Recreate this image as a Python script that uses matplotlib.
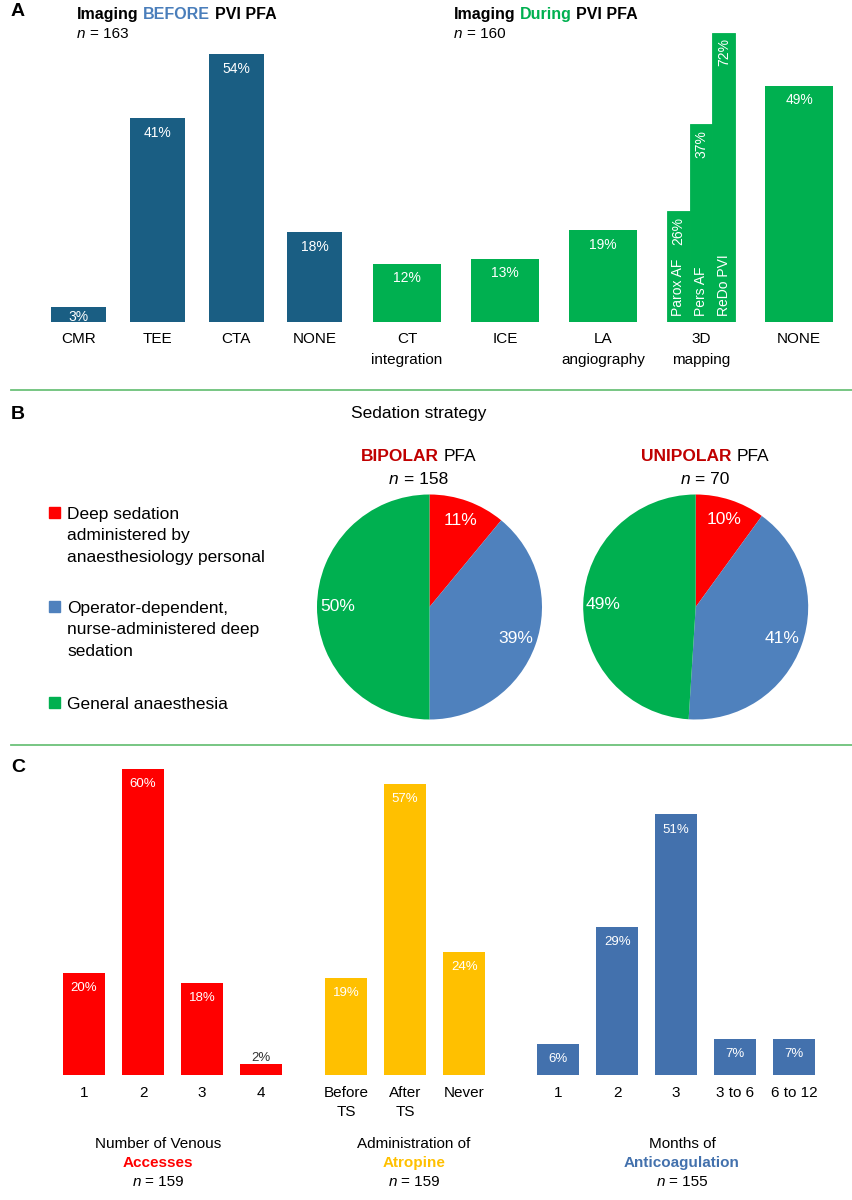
import matplotlib
matplotlib.use("Agg")
import matplotlib.pyplot as plt
from matplotlib.patches import Rectangle
from matplotlib.lines import Line2D

plt.rcParams['font.family'] = ['Liberation Sans', 'DejaVu Sans']

# ---- panel A: imaging ----
before_cats = ["CMR", "TEE", "CTA", "NONE"]
before_vals = [3, 41, 54, 18]
before_n = 163

during_cats = ["CT\nintegration", "ICE", "LA\nangiography", "3D\nmapping", "NONE"]
during_vals = [12, 13, 19, None, 49]  # 3D mapping is split into sub-bars below
during_n = 160

mapping_groups = ["Parox AF", "Pers AF", "ReDo PVI"]
mapping_vals = [26, 37, 72]       # printed percentages
mapping_heights = [23, 41, 60]    # drawn heights (not to scale there)

# ---- panel B: sedation ----
sed_labels = [["Deep sedation", "administered by", "anaesthesiology personal"],
              ["Operator-dependent,", "nurse-administered deep", "sedation"],
              ["General anaesthesia"]]
bipolar_vals = [11, 39, 50]
unipolar_vals = [10, 41, 49]
bipolar_n = 158
unipolar_n = 70

# ---- panel C ----
access_cats = ["1", "2", "3", "4"]
access_vals = [20, 60, 18, 2]
atropine_cats = ["Before\nTS", "After\nTS", "Never"]
atropine_vals = [19, 57, 24]
anticoag_cats = ["1", "2", "3", "3 to 6", "6 to 12"]
anticoag_vals = [6, 29, 51, 7, 7]

BEFORE_BLUE = '#1a5e83'
GREEN = '#00b050'
PIE_COLORS = ['#ff0000', '#4f81bd', '#00b050']
C_RED = '#ff0000'
C_YELLOW = '#ffc000'
C_BLUE = '#4371ad'

W, H = 852, 1200
PT = 100 / 72  # px per point

fig = plt.figure(figsize=(W / 100, H / 100), dpi=100)
renderer = fig.canvas.get_renderer()


def px_axes(left, top, right, bottom):
    return fig.add_axes([left / W, 1 - bottom / H, (right - left) / W, (bottom - top) / H])


def bare(ax):
    for s in ax.spines.values():
        s.set_visible(False)
    ax.set_yticks([])


def ftext(x, y, s, size, **kw):
    return fig.text(x / W, 1 - (y + 0.1 * size * PT) / H, s, fontsize=size, va='center', **kw)


def rich(x, y, parts, size, ha='left'):
    arts = [ftext(0, y, s, size, color=c, fontweight=w, fontstyle=st, ha='left')
            for s, c, w, st in parts]
    widths = [a.get_window_extent(renderer).width for a in arts]
    gap = 0.278 * size * PT
    total = sum(widths) + gap * (len(arts) - 1)
    x0 = x - total / 2 if ha == 'center' else x
    for a, wd in zip(arts, widths):
        a.set_x(x0 / W)
        x0 += wd + gap


def inside_labels(ax, xs, vals, px_per_unit, size, off=13.5):
    for x, v in zip(xs, vals):
        d = min(off, 0.6 * v * px_per_unit) + 0.1 * size * PT
        ax.annotate(f"{v}%", (x, v), xytext=(0, -d / PT), textcoords='offset points',
                    ha='center', va='center', color='white', fontsize=size)


# ================= A =================
base_a = 321.7
sb, sd = 4.96, 4.82  # px per percent

axb = px_axes(39.3, base_a - 60 * sb, 354.1, base_a)
xb = list(range(len(before_cats)))
axb.bar(xb, before_vals, width=0.7, color=BEFORE_BLUE)
axb.set_xlim(-0.5, len(before_cats) - 0.5)
axb.set_ylim(0, 60)
axb.set_xticks(xb, before_cats, fontsize=11)
axb.tick_params(axis='x', length=0, pad=7.5)
bare(axb)
inside_labels(axb, xb, before_vals, sb, 10)

axd = px_axes(358, base_a - 60 * sd, 848, base_a)
main_idx = [i for i, v in enumerate(during_vals) if v is not None]
main_vals = [during_vals[i] for i in main_idx]
axd.bar(main_idx, main_vals, width=0.7, color=GREEN)
m = during_cats.index("3D\nmapping")
sub_w = 0.7 / len(mapping_groups)
sub_x = [m + (k - 1) * sub_w for k in range(len(mapping_groups))]
axd.bar(sub_x, mapping_heights, width=sub_w, color=GREEN, edgecolor=GREEN, linewidth=0.6)
axd.set_xlim(-0.5, len(during_cats) - 0.5)
axd.set_ylim(0, 60)
axd.set_xticks(range(len(during_cats)), during_cats, fontsize=11)
for lbl in axd.get_xticklabels():
    lbl.set_linespacing(1.64)
axd.tick_params(axis='x', length=0, pad=7.5)
bare(axd)
inside_labels(axd, main_idx, main_vals, sd, 10, off=13)
for x, h, v, g in zip(sub_x, mapping_heights, mapping_vals, mapping_groups):
    axd.annotate(f"{v}%", (x, h), xytext=(0, -4.3), textcoords='offset points', rotation=90,
                 ha='center', va='top', color='white', fontsize=10)
    axd.annotate(g, (x, 0), xytext=(0, 4), textcoords='offset points', rotation=90,
                 ha='center', va='bottom', color='white', fontsize=10)

ftext(11, 10, "A", 14, fontweight='bold', ha='left')
rich(77, 12.5, [("Imaging", 'black', 'bold', 'normal'), ("BEFORE", '#4a7ebb', 'bold', 'normal'),
                ("PVI PFA", 'black', 'bold', 'normal')], 11.5)
rich(77, 32, [("n", 'black', 'normal', 'italic'), (f"= {before_n}", 'black', 'normal', 'normal')], 11)
rich(454, 12.5, [("Imaging", 'black', 'bold', 'normal'), ("During", GREEN, 'bold', 'normal'),
                 ("PVI PFA", 'black', 'bold', 'normal')], 11.5)
rich(454, 32, [("n", 'black', 'normal', 'italic'), (f"= {during_n}", 'black', 'normal', 'normal')], 11)

# separators
for yy in (389.5, 745):
    fig.add_artist(Line2D([11 / W, 1], [1 - yy / H] * 2, transform=fig.transFigure,
                          color='#6cc27a', lw=1.3))

# ================= B =================
ftext(11, 413, "B", 14, fontweight='bold', ha='left')
ftext(418.5, 412, "Sedation strategy", 12.5, ha='center')

pie_cy, r = 607, 112.5
for vals, n, cx, tx, name in [(bipolar_vals, bipolar_n, 429.5, 418.5, "BIPOLAR"),
                              (unipolar_vals, unipolar_n, 695.7, 705, "UNIPOLAR")]:
    ax = px_axes(cx - r, pie_cy - r, cx + r, pie_cy + r)
    ax.pie(vals, colors=PIE_COLORS, startangle=90, counterclock=False, autopct='%.0f%%',
           pctdistance=0.82, textprops=dict(color='white', fontsize=12.5),
           wedgeprops=dict(linewidth=0))
    ax.set_xlim(-1, 1)
    ax.set_ylim(-1, 1)
    rich(tx, 455, [(name, '#c00000', 'bold', 'normal'), ("PFA", 'black', 'normal', 'normal')],
         12.5, ha='center')
    rich(tx, 478, [("n", 'black', 'normal', 'italic'), (f"= {n}", 'black', 'normal', 'normal')],
         12.5, ha='center')

for lines, color, y0 in zip(sed_labels, PIE_COLORS, (512.8, 606.8, 702.7)):
    fig.add_artist(Rectangle((49 / W, 1 - (y0 + 5) / H), 11 / W, 11 / H,
                             transform=fig.transFigure, color=color))
    for k, line in enumerate(lines):
        ftext(67, y0 + k * 21.4, line, 12.5, ha='left')

# ================= C =================
ftext(11, 766, "C", 14, fontweight='bold', ha='left')
base_c, sc, step = 1074.5, 5.1, 59
groups = [
    (access_cats, access_vals, C_RED, 54.5, "Number of Venous", "Accesses", 159, 158),
    (atropine_cats, atropine_vals, C_YELLOW, 316.7, "Administration of", "Atropine", 159, 414),
    (anticoag_cats, anticoag_vals, C_BLUE, 528.7, "Months of", "Anticoagulation", 155, 682),
]
for cats, vals, color, left, t1, t2, n, tx in groups:
    ax = px_axes(left, base_c - 62 * sc, left + len(cats) * step, base_c)
    xs = list(range(len(cats)))
    ax.bar(xs, vals, width=0.71, color=color)
    ax.set_xlim(-0.5, len(cats) - 0.5)
    ax.set_ylim(0, 62)
    ax.set_xticks(xs, cats, fontsize=11)
    for lbl in ax.get_xticklabels():
        lbl.set_linespacing(1.44)
    ax.tick_params(axis='x', length=0, pad=8.6)
    bare(ax)
    for x, v in zip(xs, vals):
        if v * sc < 20:
            ax.annotate(f"{v}%", (x, v), xytext=(0, 4.5), textcoords='offset points',
                        ha='center', va='center', color='#333333', fontsize=9.5)
        else:
            ax.annotate(f"{v}%", (x, v), xytext=(0, -11), textcoords='offset points',
                        ha='center', va='center', color='white', fontsize=9.5)
    ftext(tx, 1142, t1, 11, ha='center')
    ftext(tx, 1161, t2, 11, ha='center', color=color, fontweight='bold')
    rich(tx, 1180.5, [("n", 'black', 'normal', 'italic'), (f"= {n}", 'black', 'normal', 'normal')],
         11, ha='center')

fig.savefig("out.png", dpi=100)
